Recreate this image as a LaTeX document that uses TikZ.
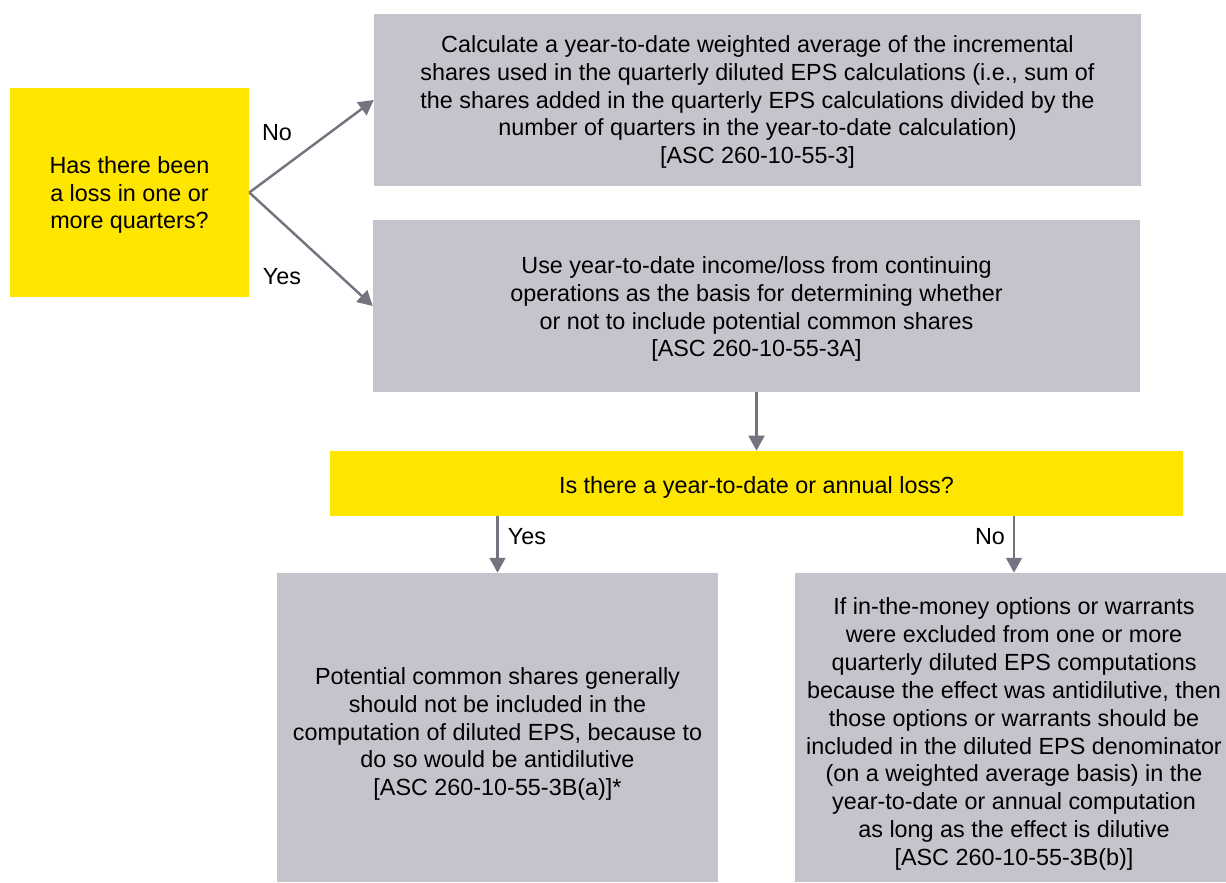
\documentclass[tikz,border=0pt]{standalone}
\usepackage{fontspec}
\setmainfont{Liberation Sans}
\usetikzlibrary{arrows.meta}
\definecolor{eyyellow}{HTML}{FFE600}
\definecolor{eygray}{HTML}{C4C4CD}
\definecolor{arrowgray}{HTML}{747480}
\tikzset{
  ybox/.style={fill=eyyellow, draw=none, inner sep=0pt, align=center, font=\fontsize{13.3pt}{15.9pt}\selectfont},
  gbox/.style={fill=eygray, draw=none, inner sep=0pt, align=center, font=\fontsize{13.3pt}{15.9pt}\selectfont},
  conn/.style={draw=arrowgray, line width=1.4pt, -{Triangle[length=8.5pt,width=9pt]}},
  lbl/.style={font=\fontsize{13.3pt}{15.9pt}\selectfont, inner sep=0pt}
}
\begin{document}
\begin{tikzpicture}[x=0.02cm,y=-0.02cm]
\useasboundingbox (0,0) rectangle (1226,882);
\node[ybox, minimum width=4.78cm, minimum height=4.18cm] (q1) at (129.5,192.5) {};
\node[lbl, align=center] (q1t) at (129.5,195)
  {Has there been\\a loss in one or\\more quarters?};
\node[gbox, minimum width=15.34cm, minimum height=3.44cm] (b1) at (757.5,100) {};
\node[lbl, align=center] (b1t) at (757.5,102)
  {Calculate a year-to-date weighted average of the incremental\\shares used in the quarterly diluted EPS calculations (i.e., sum of\\the shares added in the quarterly EPS calculations divided by the\\number of quarters in the year-to-date calculation)\\{}[ASC 260-10-55-3]};
\node[gbox, minimum width=15.34cm, minimum height=3.44cm] (b2) at (756.5,306) {};
\node[lbl, align=center] (b2t) at (756.5,309)
  {Use year-to-date income/loss from continuing\\operations as the basis for determining whether\\or not to include potential common shares\\{}[ASC 260-10-55-3A]};
\node[ybox, minimum width=17.06cm, minimum height=1.30cm] (q2) at (756.5,483.5) {};
\node[lbl] (q2t) at (756.5,487) {Is there a year-to-date or annual loss?};
\node[gbox, minimum width=8.82cm, minimum height=6.18cm] (bl) at (497.5,727.5) {};
\node[lbl, align=center] (blt) at (497.5,734)
  {Potential common shares generally\\should not be included in the\\computation of diluted EPS, because to\\do so would be antidilutive\\{}[ASC 260-10-55-3B(a)]*};
\node[gbox, minimum width=8.62cm, minimum height=6.18cm] (br) at (1010.5,727.5) {};
\node[lbl, align=center] (brt) at (1014,734)
  {If in-the-money options or warrants\\were excluded from one or more\\quarterly diluted EPS computations\\because the effect was antidilutive, then\\those options or warrants should be\\included in the diluted EPS denominator\\(on a weighted average basis) in the\\year-to-date or annual computation\\as long as the effect is dilutive\\{}[ASC 260-10-55-3B(b)]};
\draw[conn] (q1.east) -- (b1.west);
\draw[conn] (q1.east) -- (b2.west);
\draw[conn] (b2.south) -- (q2.north);
\draw[conn] (q2.south -| bl.north) -- (bl.north);
\coordinate (nostart) at ([xshift=0.07cm]q2.south -| br.north);
\coordinate (noend) at ([xshift=0.07cm]br.north);
\draw[conn] (nostart) -- (noend);
\node[lbl] (lno1) at (277,133) {No};
\node[lbl] (lyes1) at (282,277) {Yes};
\node[lbl] (lyes2) at (527,537) {Yes};
\node[lbl] (lno2) at (990,537) {No};
\end{tikzpicture}
\end{document}
